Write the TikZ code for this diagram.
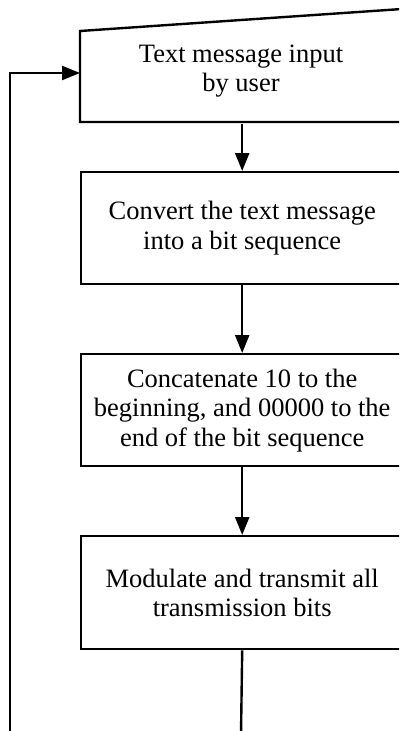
\documentclass[tikz,border=0pt]{standalone}
\usepackage{fontspec}
\setmainfont{Liberation Serif}
\usetikzlibrary{arrows.meta}
\begin{document}
\begin{tikzpicture}[x=1pt,y=-1pt,
  line width=2.4pt,
  txt/.style={align=center,font=\fontsize{26.5}{29.5}\selectfont,inner sep=0pt},
  box/.style={txt,draw,minimum width=322pt,anchor=north west},
  arr/.style={-{Triangle[length=18pt,width=14pt]}}]
\useasboundingbox (0,0) rectangle (399,731);
\clip (0,0) rectangle (399,731);
% box 1 (manual input)
\node[box,draw=none,minimum height=91pt] (b1) at (80,31) {};
\draw (80,31) -- (402,9) -- (402,122) -- (80,122) -- cycle;
\node[txt] (t1) at (241,71) {Text message input\\by user};
\node[box,minimum height=112pt] (b2) at (80,171) {Convert the text message\\into a bit sequence};
\node[box,minimum height=112pt] (b3) at (80,353) {Concatenate 10 to the\\beginning, and 00000 to the\\end of the bit sequence};
\node[box,minimum height=113pt] (b4) at (80,535) {Modulate and transmit all\\transmission bits};
\coordinate (e1) at (241,735);
\coordinate (e2) at (10,735);
\coordinate (e3) at (10,73);
\draw[arr] (b1.south) -- (b2.north);
\draw[arr] (b2.south) -- (b3.north);
\draw[arr] (b3.south) -- (b4.north);
\draw (b4.south) -- (e1);
\draw[arr] (e2) -- (e3) -- (b1.west |- e3);
\end{tikzpicture}
\end{document}
